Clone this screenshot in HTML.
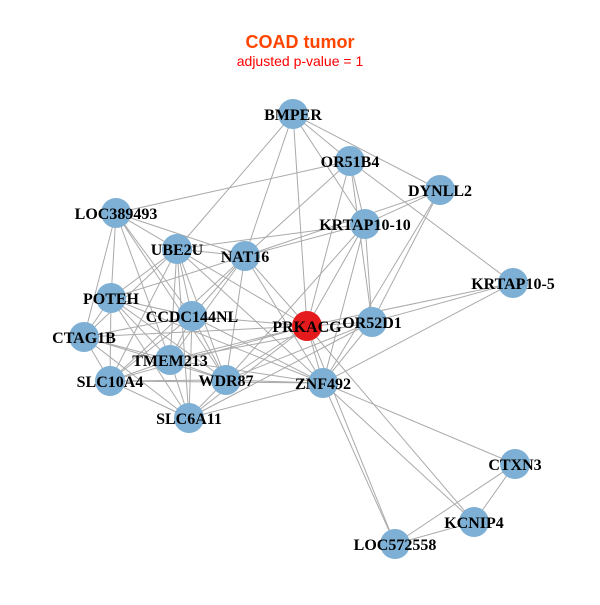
<!DOCTYPE html>
<html><head><style>body{margin:0;background:#fff}</style></head><body>
<svg width="600" height="600" xmlns="http://www.w3.org/2000/svg">
<rect width="600" height="600" fill="#fff"/>
<text x="300" y="48" text-anchor="middle" font-family="Liberation Sans, sans-serif" font-weight="bold" font-size="18" fill="#FF4500">COAD tumor</text>
<text x="300" y="66" text-anchor="middle" font-family="Liberation Sans, sans-serif" font-size="14" fill="#FF0000">adjusted p-value = 1</text>
<g stroke="#aaa" stroke-width="1">
<line x1="293" y1="114" x2="350" y2="161"/>
<line x1="293" y1="114" x2="440" y2="190"/>
<line x1="293" y1="114" x2="365" y2="224"/>
<line x1="293" y1="114" x2="307" y2="326"/>
<line x1="293" y1="114" x2="177" y2="249"/>
<line x1="293" y1="114" x2="245" y2="256"/>
<line x1="350" y1="161" x2="116" y2="213"/>
<line x1="350" y1="161" x2="513" y2="283"/>
<line x1="350" y1="161" x2="365" y2="224"/>
<line x1="350" y1="161" x2="245" y2="256"/>
<line x1="350" y1="161" x2="307" y2="326"/>
<line x1="350" y1="161" x2="372" y2="322"/>
<line x1="440" y1="190" x2="365" y2="224"/>
<line x1="440" y1="190" x2="245" y2="256"/>
<line x1="440" y1="190" x2="372" y2="322"/>
<line x1="440" y1="190" x2="323" y2="383"/>
<line x1="365" y1="224" x2="245" y2="256"/>
<line x1="365" y1="224" x2="177" y2="249"/>
<line x1="365" y1="224" x2="307" y2="326"/>
<line x1="365" y1="224" x2="372" y2="322"/>
<line x1="365" y1="224" x2="323" y2="383"/>
<line x1="365" y1="224" x2="226" y2="380"/>
<line x1="513" y1="283" x2="372" y2="322"/>
<line x1="513" y1="283" x2="307" y2="326"/>
<line x1="513" y1="283" x2="323" y2="383"/>
<line x1="307" y1="326" x2="245" y2="256"/>
<line x1="307" y1="326" x2="177" y2="249"/>
<line x1="307" y1="326" x2="192" y2="316"/>
<line x1="307" y1="326" x2="84" y2="337"/>
<line x1="307" y1="326" x2="170" y2="360"/>
<line x1="307" y1="326" x2="226" y2="380"/>
<line x1="307" y1="326" x2="323" y2="383"/>
<line x1="307" y1="326" x2="372" y2="322"/>
<line x1="307" y1="326" x2="110" y2="381"/>
<line x1="307" y1="326" x2="395" y2="544"/>
<line x1="307" y1="326" x2="474" y2="522"/>
<line x1="307" y1="326" x2="189" y2="418"/>
<line x1="372" y1="322" x2="226" y2="380"/>
<line x1="372" y1="322" x2="170" y2="360"/>
<line x1="372" y1="322" x2="323" y2="383"/>
<line x1="372" y1="322" x2="189" y2="418"/>
<line x1="323" y1="383" x2="395" y2="544"/>
<line x1="323" y1="383" x2="474" y2="522"/>
<line x1="323" y1="383" x2="515" y2="464"/>
<line x1="323" y1="383" x2="226" y2="380"/>
<line x1="323" y1="383" x2="189" y2="418"/>
<line x1="323" y1="383" x2="170" y2="360"/>
<line x1="323" y1="383" x2="111" y2="298"/>
<line x1="323" y1="383" x2="177" y2="249"/>
<line x1="323" y1="383" x2="245" y2="256"/>
<line x1="323" y1="383" x2="192" y2="316"/>
<line x1="323" y1="383" x2="110" y2="381"/>
<line x1="515" y1="464" x2="474" y2="522"/>
<line x1="515" y1="464" x2="395" y2="544"/>
<line x1="474" y1="522" x2="395" y2="544"/>
<line x1="116" y1="213" x2="177" y2="249"/>
<line x1="116" y1="213" x2="245" y2="256"/>
<line x1="116" y1="213" x2="111" y2="298"/>
<line x1="116" y1="213" x2="84" y2="337"/>
<line x1="116" y1="213" x2="170" y2="360"/>
<line x1="116" y1="213" x2="192" y2="316"/>
<line x1="116" y1="213" x2="226" y2="380"/>
<line x1="177" y1="249" x2="245" y2="256"/>
<line x1="177" y1="249" x2="111" y2="298"/>
<line x1="177" y1="249" x2="192" y2="316"/>
<line x1="177" y1="249" x2="84" y2="337"/>
<line x1="177" y1="249" x2="170" y2="360"/>
<line x1="177" y1="249" x2="110" y2="381"/>
<line x1="177" y1="249" x2="226" y2="380"/>
<line x1="177" y1="249" x2="189" y2="418"/>
<line x1="245" y1="256" x2="111" y2="298"/>
<line x1="245" y1="256" x2="192" y2="316"/>
<line x1="245" y1="256" x2="170" y2="360"/>
<line x1="245" y1="256" x2="226" y2="380"/>
<line x1="245" y1="256" x2="110" y2="381"/>
<line x1="111" y1="298" x2="192" y2="316"/>
<line x1="111" y1="298" x2="84" y2="337"/>
<line x1="111" y1="298" x2="170" y2="360"/>
<line x1="111" y1="298" x2="110" y2="381"/>
<line x1="111" y1="298" x2="226" y2="380"/>
<line x1="111" y1="298" x2="189" y2="418"/>
<line x1="192" y1="316" x2="84" y2="337"/>
<line x1="192" y1="316" x2="170" y2="360"/>
<line x1="192" y1="316" x2="110" y2="381"/>
<line x1="192" y1="316" x2="226" y2="380"/>
<line x1="192" y1="316" x2="189" y2="418"/>
<line x1="84" y1="337" x2="170" y2="360"/>
<line x1="84" y1="337" x2="110" y2="381"/>
<line x1="84" y1="337" x2="226" y2="380"/>
<line x1="84" y1="337" x2="189" y2="418"/>
<line x1="170" y1="360" x2="110" y2="381"/>
<line x1="170" y1="360" x2="226" y2="380"/>
<line x1="170" y1="360" x2="189" y2="418"/>
<line x1="110" y1="381" x2="226" y2="380"/>
<line x1="110" y1="381" x2="189" y2="418"/>
<line x1="226" y1="380" x2="189" y2="418"/>
</g>
<g fill="#7EB0D5">
<circle cx="293" cy="114" r="15"/>
<circle cx="350" cy="161" r="15"/>
<circle cx="440" cy="190" r="15"/>
<circle cx="365" cy="224" r="15"/>
<circle cx="245" cy="256" r="15"/>
<circle cx="513" cy="283" r="15"/>
<circle cx="372" cy="322" r="15"/>
<circle cx="323" cy="383" r="15"/>
<circle cx="116" cy="213" r="15"/>
<circle cx="177" cy="249" r="15"/>
<circle cx="111" cy="298" r="15"/>
<circle cx="192" cy="316" r="15"/>
<circle cx="84" cy="337" r="15"/>
<circle cx="170" cy="360" r="15"/>
<circle cx="110" cy="381" r="15"/>
<circle cx="226" cy="380" r="15"/>
<circle cx="189" cy="418" r="15"/>
<circle cx="515" cy="464" r="15"/>
<circle cx="474" cy="522" r="15"/>
<circle cx="395" cy="544" r="15"/>
<circle cx="307" cy="326" r="15" fill="#E41A1C"/>
</g>
<g font-family="Liberation Serif, serif" font-weight="bold" font-size="16" text-anchor="middle" fill="#000">
<text x="293" y="120">BMPER</text>
<text x="350" y="167">OR51B4</text>
<text x="440" y="196">DYNLL2</text>
<text x="365" y="230">KRTAP10-10</text>
<text x="245" y="262">NAT16</text>
<text x="513" y="289">KRTAP10-5</text>
<text x="307" y="332">PRKACG</text>
<text x="372" y="328">OR52D1</text>
<text x="323" y="389">ZNF492</text>
<text x="116" y="219">LOC389493</text>
<text x="177" y="255">UBE2U</text>
<text x="111" y="304">POTEH</text>
<text x="192" y="322">CCDC144NL</text>
<text x="84" y="343">CTAG1B</text>
<text x="170" y="366">TMEM213</text>
<text x="110" y="387">SLC10A4</text>
<text x="226" y="386">WDR87</text>
<text x="189" y="424">SLC6A11</text>
<text x="515" y="470">CTXN3</text>
<text x="474" y="528">KCNIP4</text>
<text x="395" y="550">LOC572558</text>
</g>
</svg>
</body></html>
